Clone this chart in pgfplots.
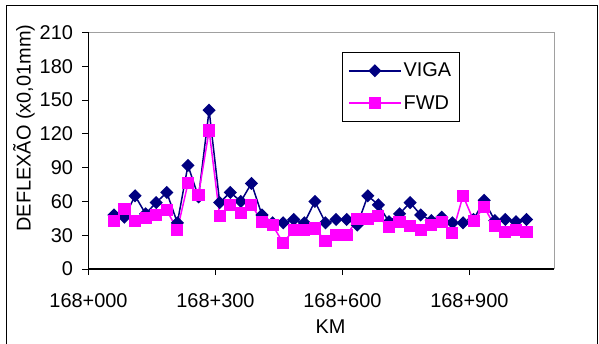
\documentclass[border=0pt]{standalone}
\usepackage{fontspec}
\setmainfont{Liberation Sans}
\usepackage{pgfplots}
\usepackage{pgfplotstable}
\pgfplotsset{compat=1.18}

\definecolor{viga}{RGB}{0,0,128}
\definecolor{fwd}{RGB}{255,0,255}
\definecolor{plotframe}{RGB}{160,160,160}
\newcommand\fs{\fontsize{20}{24}\selectfont}

% Deflection per station (x = metres after km 168)
\pgfplotstableread{
km   viga  fwd
60   48    43
85   46    53
110  65    43
135  49    45
160  59    48
185  68    52
210  41    35
235  92    76
260  64    66
285  141   123
310  59    47
335  68    57
360  60    50
385  76    57
410  48    42
435  41    39
460  41    23
485  44    35
510  41    35
535  60    36
560  41    25
585  44    30
610  44    30
635  39    44
660  65    44
685  57    47
710  42    37
735  49    42
760  59    38
785  48    35
810  43    39
835  46    42
860  41    32
885  41    65
910  44    43
935  61    55
960  43    38
985  44    33
1010 42    35
1035 44    33
}\deflexao

\begin{document}
\begin{tikzpicture}
\useasboundingbox (0bp,0bp) rectangle (599bp,344bp);
\draw[line width=1bp] (6bp,-10bp) -- (6bp,338.3bp) -- (597.3bp,338.3bp) -- (597.3bp,-10bp);
\begin{axis}[
  at={(88.5bp,75bp)}, anchor=south west,
  scale only axis, width=465.5bp, height=236.5bp,
  xmin=0, xmax=1100, ymin=0, ymax=210,
  xtick={0,300,600,900},
  xticklabels={168+000,168+300,168+600,168+900},
  ytick={0,30,...,210},
  tick align=outside, tick pos=left,
  major tick length=6bp,
  tick style={black, line width=1bp},
  axis line style={draw=none},
  tick label style={font=\fs},
  xticklabel style={yshift=-15bp},
  yticklabel style={xshift=-6bp},
  /pgf/number format/assume math mode=true,
  label style={font=\fs},
  xlabel={KM},
  xlabel style={at={(axis description cs:0.52,-0.245)}, anchor=center},
  ylabel={DEFLEXÃO (x0,01mm)},
  ylabel style={at={(axis description cs:-0.1386,0.596)}, anchor=center},
  legend style={font=\fs, at={(axis description cs:0.544,0.919)}, anchor=north west,
    draw=black, line width=0.8bp, inner xsep=6bp, inner ysep=9bp,
    row sep=13bp, /tikz/every even column/.append style={column sep=8bp}},
  legend cell align=left,
  legend image code/.code={\draw[mark repeat=2,mark phase=2] plot coordinates {(0bp,0bp) (26bp,0bp) (52bp,0bp)};},
  after end axis/.code={
    \draw[plotframe, line width=1bp] (rel axis cs:0,1) -- (rel axis cs:1,1) -- (rel axis cs:1,0);
    \draw[black, line width=1.2bp] (rel axis cs:0,1) -- (rel axis cs:0,0) -- (rel axis cs:1,0);
  },
]
\addplot[color=viga, line width=1.5bp, mark=square*, mark size=3.9bp,
  mark options={rotate=45, solid, fill=viga}] table[x=km, y=viga] {\deflexao};
\addlegendentry{VIGA}
\addplot[color=fwd, line width=1.5bp, mark=square*, mark size=5.3bp,
  mark options={solid, fill=fwd}] table[x=km, y=fwd] {\deflexao};
\addlegendentry{FWD}
\end{axis}
\end{tikzpicture}
\end{document}
